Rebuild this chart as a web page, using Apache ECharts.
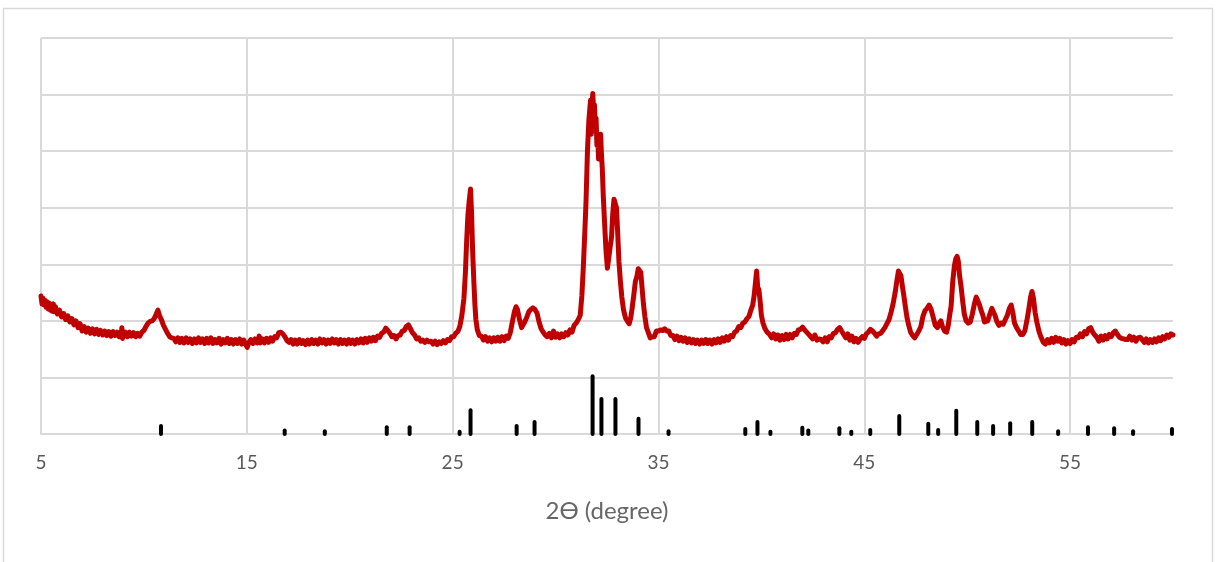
<!DOCTYPE html>
<html>
<head>
<meta charset="utf-8">
<script src="https://cdn.jsdelivr.net/npm/echarts@6/dist/echarts.min.js"></script>
<style>
html,body{margin:0;padding:0;background:#fff;}
#chart{width:1216px;height:562px;}
</style>
</head>
<body>
<div id="chart"></div>
<script>
// Measured XRD scan: [2theta, intensity] (arbitrary units)
var xrdScan = [
[5.00,2.44],[5.05,2.30],[5.10,2.40],[5.15,2.28],[5.20,2.36],[5.25,2.24],[5.30,2.34],[5.35,2.21],[5.40,2.31],[5.45,2.19],
[5.50,2.28],[5.55,2.17],[5.60,2.30],[5.65,2.16],[5.70,2.25],[5.80,2.12],[5.90,2.19],[6.00,2.07],[6.10,2.13],[6.20,2.02],
[6.30,2.09],[6.40,1.98],[6.50,2.04],[6.60,1.93],[6.70,2.00],[6.80,1.88],[6.90,1.95],[7.00,1.82],[7.10,1.90],[7.20,1.80],
[7.30,1.87],[7.40,1.78],[7.50,1.86],[7.60,1.77],[7.70,1.85],[7.80,1.76],[7.90,1.83],[8.00,1.75],[8.10,1.82],[8.20,1.74],
[8.30,1.81],[8.40,1.73],[8.50,1.81],[8.60,1.74],[8.70,1.80],[8.80,1.72],[8.90,1.79],[8.93,1.88],[8.96,1.69],[9.00,1.76],
[9.10,1.80],[9.20,1.72],[9.30,1.80],[9.40,1.73],[9.50,1.79],[9.60,1.72],[9.70,1.78],[9.80,1.73],[9.90,1.80],[10.00,1.83],
[10.10,1.90],[10.20,1.96],[10.30,1.99],[10.40,2.00],[10.50,2.04],[10.60,2.12],[10.68,2.19],[10.75,2.10],[10.85,2.02],[10.95,1.92],
[11.05,1.85],[11.15,1.78],[11.25,1.72],[11.35,1.70],[11.45,1.69],[11.55,1.63],[11.65,1.70],[11.75,1.62],[11.85,1.69],[11.95,1.61],
[12.05,1.70],[12.15,1.62],[12.25,1.68],[12.35,1.60],[12.45,1.68],[12.55,1.61],[12.65,1.70],[12.75,1.62],[12.85,1.68],[12.95,1.60],
[13.05,1.69],[13.15,1.61],[13.25,1.70],[13.35,1.60],[13.45,1.67],[13.55,1.61],[13.65,1.69],[13.75,1.59],[13.85,1.67],[13.95,1.61],
[14.05,1.69],[14.15,1.60],[14.25,1.67],[14.35,1.59],[14.45,1.67],[14.55,1.60],[14.65,1.68],[14.75,1.59],[14.85,1.66],[14.95,1.58],
[15.02,1.53],[15.10,1.62],[15.20,1.67],[15.30,1.60],[15.40,1.68],[15.50,1.61],[15.60,1.73],[15.65,1.61],[15.75,1.68],[15.85,1.61],
[15.95,1.69],[16.05,1.62],[16.15,1.70],[16.25,1.64],[16.35,1.72],[16.45,1.70],[16.55,1.79],[16.65,1.80],[16.75,1.77],[16.85,1.72],
[16.95,1.65],[17.05,1.62],[17.15,1.67],[17.25,1.59],[17.35,1.66],[17.45,1.59],[17.55,1.67],[17.65,1.60],[17.75,1.65],[17.85,1.58],
[17.95,1.66],[18.05,1.59],[18.15,1.67],[18.25,1.60],[18.35,1.66],[18.45,1.59],[18.55,1.68],[18.65,1.61],[18.75,1.67],[18.85,1.59],
[18.95,1.66],[19.05,1.60],[19.15,1.68],[19.25,1.61],[19.35,1.67],[19.45,1.59],[19.55,1.67],[19.65,1.60],[19.75,1.66],[19.85,1.59],
[19.95,1.67],[20.05,1.60],[20.15,1.66],[20.25,1.59],[20.35,1.67],[20.45,1.61],[20.55,1.68],[20.65,1.61],[20.75,1.69],[20.85,1.62],
[20.95,1.70],[21.05,1.64],[21.15,1.71],[21.25,1.65],[21.35,1.73],[21.45,1.71],[21.55,1.78],[21.65,1.80],[21.75,1.87],[21.85,1.83],
[21.95,1.78],[22.05,1.72],[22.15,1.74],[22.25,1.68],[22.35,1.74],[22.45,1.75],[22.55,1.82],[22.65,1.83],[22.75,1.90],[22.85,1.93],
[22.95,1.86],[23.05,1.79],[23.15,1.75],[23.25,1.68],[23.35,1.70],[23.45,1.64],[23.55,1.66],[23.65,1.62],[23.75,1.66],[23.85,1.63],
[23.95,1.64],[24.05,1.59],[24.15,1.64],[24.25,1.58],[24.35,1.63],[24.45,1.60],[24.55,1.65],[24.65,1.61],[24.75,1.67],[24.85,1.65],
[24.95,1.72],[25.05,1.72],[25.15,1.78],[25.25,1.81],[25.35,1.90],[25.45,2.10],[25.55,2.40],[25.62,2.85],[25.68,3.40],[25.74,3.85],
[25.80,4.10],[25.87,4.33],[25.92,3.90],[25.97,3.25],[26.03,2.70],[26.08,2.30],[26.13,2.02],[26.20,1.84],[26.30,1.74],[26.40,1.73],
[26.50,1.66],[26.60,1.72],[26.70,1.64],[26.80,1.70],[26.90,1.63],[27.00,1.70],[27.10,1.64],[27.20,1.71],[27.30,1.64],[27.40,1.72],
[27.50,1.65],[27.60,1.73],[27.70,1.69],[27.80,1.79],[27.90,1.98],[28.00,2.16],[28.08,2.25],[28.15,2.20],[28.25,2.02],[28.35,1.88],
[28.42,1.86],[28.50,1.98],[28.60,2.06],[28.70,2.16],[28.80,2.20],[28.90,2.23],[29.00,2.20],[29.10,2.14],[29.20,1.98],[29.30,1.86],
[29.40,1.80],[29.50,1.75],[29.60,1.72],[29.70,1.78],[29.80,1.70],[29.90,1.82],[30.00,1.71],[30.10,1.77],[30.20,1.70],[30.30,1.77],
[30.40,1.72],[30.50,1.79],[30.60,1.75],[30.70,1.84],[30.80,1.80],[30.90,1.92],[31.00,1.96],[31.10,2.02],[31.20,2.10],[31.28,2.45],
[31.35,2.95],[31.42,3.55],[31.48,4.10],[31.55,5.00],[31.62,5.55],[31.70,5.90],[31.74,5.30],[31.77,5.80],[31.81,6.02],[31.85,5.70],
[31.89,5.82],[31.93,5.40],[31.97,5.58],[32.01,5.10],[32.05,5.30],[32.09,4.86],[32.14,5.20],[32.19,5.30],[32.23,4.95],[32.27,4.70],
[32.32,4.20],[32.38,3.75],[32.45,3.25],[32.52,2.93],[32.58,3.10],[32.65,3.30],[32.72,3.48],[32.78,3.90],[32.84,4.15],[32.90,4.18],
[32.96,4.00],[33.02,3.55],[33.08,3.05],[33.15,2.70],[33.22,2.42],[33.30,2.20],[33.40,2.05],[33.50,1.99],[33.58,1.95],[33.65,2.05],
[33.72,2.22],[33.80,2.45],[33.88,2.70],[33.95,2.78],[34.02,2.92],[34.08,2.90],[34.14,2.86],[34.20,2.60],[34.27,2.30],[34.34,2.08],
[34.42,1.88],[34.50,1.80],[34.60,1.70],[34.70,1.72],[34.80,1.72],[34.90,1.82],[35.00,1.82],[35.10,1.84],[35.20,1.83],[35.30,1.86],
[35.40,1.82],[35.50,1.82],[35.60,1.74],[35.70,1.74],[35.80,1.67],[35.90,1.73],[36.00,1.65],[36.10,1.71],[36.20,1.64],[36.30,1.70],
[36.40,1.62],[36.50,1.68],[36.60,1.61],[36.70,1.67],[36.80,1.60],[36.90,1.66],[37.00,1.59],[37.10,1.66],[37.20,1.60],[37.30,1.67],
[37.40,1.60],[37.50,1.66],[37.60,1.59],[37.70,1.67],[37.80,1.61],[37.90,1.68],[38.00,1.62],[38.10,1.70],[38.20,1.64],[38.30,1.72],
[38.40,1.66],[38.50,1.74],[38.60,1.72],[38.70,1.80],[38.80,1.82],[38.90,1.90],[39.00,1.88],[39.10,1.96],[39.20,1.98],[39.30,2.04],
[39.40,2.08],[39.50,2.20],[39.58,2.28],[39.65,2.45],[39.72,2.70],[39.77,2.88],[39.82,2.60],[39.88,2.55],[39.94,2.35],[40.00,2.10],
[40.08,1.96],[40.18,1.86],[40.28,1.80],[40.40,1.76],[40.50,1.70],[40.60,1.77],[40.70,1.68],[40.80,1.75],[40.90,1.66],[41.00,1.74],
[41.10,1.67],[41.20,1.76],[41.30,1.68],[41.40,1.76],[41.50,1.70],[41.60,1.78],[41.70,1.76],[41.80,1.84],[41.90,1.85],[42.00,1.89],
[42.10,1.84],[42.20,1.80],[42.30,1.76],[42.40,1.72],[42.50,1.68],[42.60,1.75],[42.70,1.66],[42.80,1.68],[42.90,1.67],[43.00,1.63],
[43.10,1.70],[43.20,1.63],[43.30,1.72],[43.40,1.70],[43.50,1.78],[43.60,1.79],[43.70,1.85],[43.80,1.88],[43.90,1.82],[44.00,1.76],
[44.10,1.70],[44.20,1.77],[44.30,1.66],[44.40,1.73],[44.50,1.63],[44.60,1.69],[44.70,1.62],[44.80,1.68],[44.90,1.72],[45.00,1.69],
[45.10,1.77],[45.20,1.80],[45.30,1.85],[45.40,1.82],[45.50,1.78],[45.60,1.73],[45.70,1.77],[45.80,1.78],[45.90,1.83],[46.00,1.88],
[46.10,1.95],[46.20,2.02],[46.30,2.15],[46.40,2.30],[46.50,2.50],[46.58,2.70],[46.66,2.88],[46.72,2.90],[46.78,2.80],[46.85,2.62],
[46.92,2.45],[47.00,2.24],[47.08,2.05],[47.16,1.92],[47.25,1.80],[47.35,1.74],[47.45,1.70],[47.55,1.76],[47.65,1.82],[47.75,1.90],
[47.85,2.08],[47.95,2.18],[48.05,2.22],[48.15,2.28],[48.25,2.20],[48.35,2.06],[48.45,1.92],[48.55,1.88],[48.65,1.96],[48.72,2.00],
[48.80,1.90],[48.90,1.82],[49.00,1.80],[49.08,1.92],[49.15,2.10],[49.22,2.26],[49.30,2.70],[49.38,2.98],[49.45,3.10],[49.51,3.14],
[49.57,3.05],[49.63,2.80],[49.70,2.62],[49.78,2.35],[49.86,2.12],[49.95,2.00],[50.05,1.96],[50.15,1.98],[50.25,2.12],[50.35,2.30],
[50.44,2.42],[50.52,2.35],[50.60,2.28],[50.68,2.18],[50.76,2.10],[50.84,1.98],[50.92,1.95],[51.00,2.00],[51.10,2.12],[51.20,2.22],
[51.27,2.25],[51.35,2.10],[51.45,1.98],[51.55,1.92],[51.65,1.96],[51.75,1.94],[51.85,2.02],[51.95,2.10],[52.05,2.22],[52.14,2.28],
[52.22,2.14],[52.30,1.96],[52.40,1.88],[52.50,1.82],[52.60,1.76],[52.70,1.76],[52.80,1.82],[52.90,2.00],[53.00,2.22],[53.08,2.42],
[53.15,2.52],[53.22,2.40],[53.30,2.15],[53.40,1.95],[53.50,1.80],[53.60,1.70],[53.70,1.62],[53.80,1.59],[53.90,1.67],[54.00,1.61],
[54.10,1.69],[54.20,1.62],[54.30,1.71],[54.40,1.64],[54.50,1.69],[54.60,1.61],[54.70,1.67],[54.80,1.59],[54.90,1.65],[55.00,1.60],
[55.10,1.67],[55.20,1.63],[55.30,1.71],[55.40,1.70],[55.50,1.77],[55.60,1.72],[55.70,1.81],[55.80,1.77],[55.90,1.86],[56.00,1.88],
[56.10,1.80],[56.20,1.75],[56.30,1.71],[56.40,1.64],[56.50,1.73],[56.60,1.66],[56.70,1.74],[56.80,1.68],[56.90,1.76],[57.00,1.72],
[57.10,1.79],[57.20,1.82],[57.30,1.76],[57.40,1.71],[57.50,1.69],[57.60,1.68],[57.70,1.67],[57.80,1.67],[57.90,1.73],[58.00,1.66],
[58.10,1.71],[58.20,1.64],[58.30,1.70],[58.40,1.71],[58.50,1.67],[58.60,1.62],[58.70,1.68],[58.80,1.61],[58.90,1.67],[59.00,1.62],
[59.10,1.68],[59.20,1.63],[59.30,1.70],[59.40,1.65],[59.50,1.72],[59.60,1.68],[59.70,1.75],[59.80,1.71],[59.90,1.77],[60.00,1.75]
];

// Reference pattern sticks
var refAngles = [10.83,16.84,18.79,21.80,22.91,25.34,25.87,28.11,28.98,31.80,32.23,32.91,34.03,35.49,39.22,39.81,40.44,41.99,42.28,43.79,44.37,45.29,46.70,48.11,48.59,49.47,50.49,51.26,52.09,53.16,54.42,55.87,57.14,58.06,59.95];
var refHeights = [0.14,0.06,0.05,0.12,0.12,0.04,0.42,0.14,0.21,1.02,0.62,0.62,0.27,0.05,0.09,0.21,0.04,0.11,0.06,0.10,0.04,0.07,0.32,0.18,0.07,0.41,0.21,0.14,0.19,0.21,0.05,0.12,0.10,0.05,0.09];

// Axis ticks
var xTickStep = 10, xMin = 5, xMax = 60;
var yMin = 0, yMax = 7, yStep = 1;
var xAxisTitle = '2ϴ (degree)';

var sticks = refAngles.map(function (a, i) { return [a, refHeights[i]]; });

var chart = echarts.init(document.getElementById('chart'), null, {renderer: 'canvas'});
var gridColor = '#d9d9d9';
chart.setOption({
  animation: false,
  backgroundColor: '#ffffff',
  graphic: [{
    type: 'rect', silent: true, z: -10,
    shape: {x: 3.5, y: 8.5, width: 1209, height: 600},
    style: {fill: 'none', stroke: gridColor, lineWidth: 1.5}
  }],
  grid: {left: 41, right: 43, top: 38, bottom: 128, containLabel: false},
  xAxis: {
    type: 'value', min: xMin, max: xMax, interval: xTickStep,
    name: xAxisTitle, nameLocation: 'middle', nameGap: 65,
    nameTextStyle: {fontFamily: 'Lato', fontSize: 24, color: '#666666'},
    axisLine: {show: true, lineStyle: {color: gridColor, width: 2}},
    axisTick: {show: false},
    axisLabel: {fontFamily: 'Lato', fontSize: 19, color: '#595959', margin: 19, showMaxLabel: false},
    splitLine: {show: true, showMaxLine: false, lineStyle: {color: gridColor, width: 2}}
  },
  yAxis: {
    type: 'value', min: yMin, max: yMax, interval: yStep,
    axisLine: {show: false}, axisTick: {show: false}, axisLabel: {show: false},
    splitLine: {show: true, lineStyle: {color: gridColor, width: 2}}
  },
  series: [{
    type: 'line', data: xrdScan, showSymbol: false, symbol: 'none',
    lineStyle: {color: '#c00000', width: 5, join: 'round', cap: 'round'},
    z: 3
  }, {
    type: 'custom', data: sticks, z: 4,
    renderItem: function (params, api) {
      var p0 = api.coord([api.value(0), 0]);
      var p1 = api.coord([api.value(0), api.value(1)]);
      return {
        type: 'line',
        shape: {x1: p0[0], y1: p0[1], x2: p1[0], y2: p1[1]},
        style: {stroke: '#000000', lineWidth: 4, lineCap: 'round'}
      };
    }
  }]
});
</script>
</body>
</html>
